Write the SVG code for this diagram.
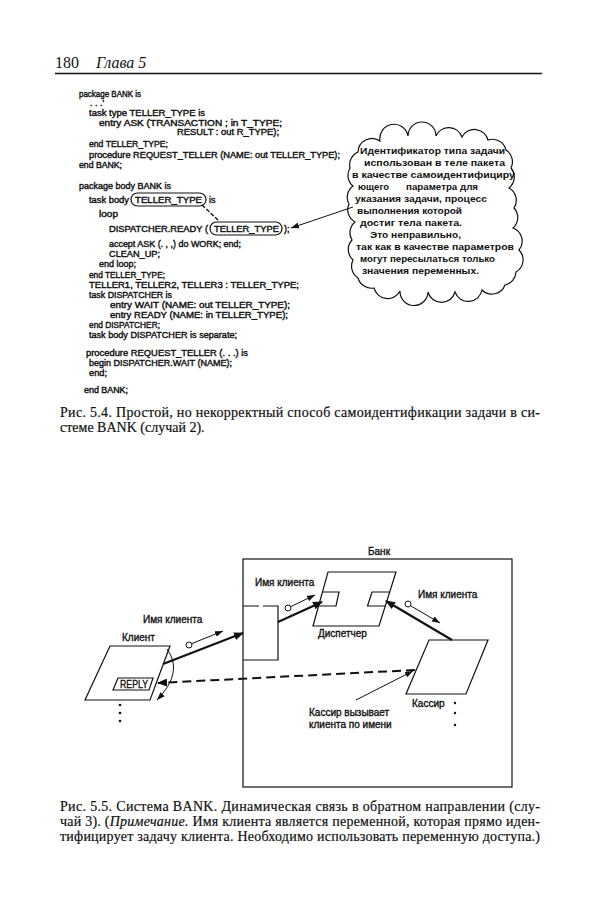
<svg xmlns="http://www.w3.org/2000/svg" width="600" height="899" viewBox="0 0 600 899">
<style>
.code{font-family:"Liberation Sans",Arial,sans-serif;font-size:9px;fill:#111;stroke:#111;stroke-width:0.4}
.cl{font-family:"Liberation Sans",Arial,sans-serif;font-size:9.5px;font-weight:bold;fill:#111}
.lab{font-family:"Liberation Sans",Arial,sans-serif;font-size:10px;fill:#111;stroke:#111;stroke-width:0.35}
.cap{font-family:"Liberation Serif","Times New Roman",serif;font-size:14px;fill:#111;stroke:#111;stroke-width:0.2}
.hd{font-family:"Liberation Serif","Times New Roman",serif;font-size:16px;fill:#111}
.shape{fill:none;stroke:#111;stroke-width:1.2}
.thick{fill:none;stroke:#111;stroke-width:2.2}
.thin{fill:none;stroke:#111;stroke-width:1}
.dash{fill:none;stroke:#111;stroke-width:2;stroke-dasharray:9 5}
.dot{fill:#111}
.ring{fill:#fff;stroke:#111;stroke-width:1}
</style>
<defs>
<marker id="ah" markerUnits="userSpaceOnUse" markerWidth="10" markerHeight="8" refX="9" refY="4" orient="auto"><path d="M0,0 L10,4 L0,8 Z" fill="#111"/></marker>
<marker id="as" markerUnits="userSpaceOnUse" markerWidth="8" markerHeight="6" refX="8" refY="3" orient="auto"><path d="M0,0 L8,3 L0,6 Z" fill="#111"/></marker>
</defs>
<rect width="600" height="899" fill="#fff"/>

<g id="header">
<text class="hd" x="55" y="68">180</text>
<text class="hd" x="96" y="68" font-style="italic">Глава 5</text>
<line x1="55" y1="73.5" x2="542" y2="73.5" stroke="#111" stroke-width="1.5"/>
</g>

<g id="code">
<text class="code" x="79" y="97" textLength="62" lengthAdjust="spacingAndGlyphs">package BANK is</text>
<text class="code" x="90" y="106">. . .'</text>
<text class="code" x="89" y="116" textLength="116" lengthAdjust="spacingAndGlyphs">task type TELLER_TYPE is</text>
<text class="code" x="99" y="125.5" textLength="183" lengthAdjust="spacingAndGlyphs">entry ASK (TRANSACTION ; in T_TYPE;</text>
<text class="code" x="177" y="135" textLength="102" lengthAdjust="spacingAndGlyphs">RESULT : out R_TYPE);</text>
<text class="code" x="89" y="146.5" textLength="79" lengthAdjust="spacingAndGlyphs">end TELLER_TYPE;</text>
<text class="code" x="89" y="157.5" textLength="251" lengthAdjust="spacingAndGlyphs">procedure REQUEST_TELLER (NAME: out TELLER_TYPE);</text>
<text class="code" x="79" y="167.5" textLength="43" lengthAdjust="spacingAndGlyphs">end BANK;</text>
<text class="code" x="79" y="188.5" textLength="92" lengthAdjust="spacingAndGlyphs">package body BANK is</text>
<text class="code" x="89" y="203" textLength="40" lengthAdjust="spacingAndGlyphs">task body</text>
<text class="code" x="135" y="203" textLength="67" lengthAdjust="spacingAndGlyphs">TELLER_TYPE</text>
<text class="code" x="209" y="203">is</text>
<text class="code" x="99" y="216.5" textLength="19" lengthAdjust="spacingAndGlyphs">loop</text>
<text class="code" x="109" y="232" textLength="99" lengthAdjust="spacingAndGlyphs">DISPATCHER.READY (</text>
<text class="code" x="214" y="232" textLength="65" lengthAdjust="spacingAndGlyphs">TELLER_TYPE</text>
<text class="code" x="284" y="232">);</text>
<text class="code" x="109" y="247" textLength="132" lengthAdjust="spacingAndGlyphs">accept ASK (. , ,) do WORK; end;</text>
<text class="code" x="109" y="257" textLength="51" lengthAdjust="spacingAndGlyphs">CLEAN_UP;</text>
<text class="code" x="99" y="267" textLength="37" lengthAdjust="spacingAndGlyphs">end loop;</text>
<text class="code" x="89" y="277.5" textLength="76" lengthAdjust="spacingAndGlyphs">end TELLER_TYPE;</text>
<text class="code" x="89" y="288" textLength="210" lengthAdjust="spacingAndGlyphs">TELLER1, TELLER2, TELLER3 : TELLER_TYPE;</text>
<text class="code" x="89" y="298" textLength="83" lengthAdjust="spacingAndGlyphs">task DISPATCHER is</text>
<text class="code" x="110" y="308" textLength="180" lengthAdjust="spacingAndGlyphs">entry WAIT (NAME: out TELLER_TYPE);</text>
<text class="code" x="110" y="318" textLength="178" lengthAdjust="spacingAndGlyphs">entry READY (NAME: in TELLER_TYPE);</text>
<text class="code" x="89" y="328" textLength="71" lengthAdjust="spacingAndGlyphs">end DISPATCHER;</text>
<text class="code" x="89" y="338" textLength="148" lengthAdjust="spacingAndGlyphs">task body DISPATCHER is separate;</text>
<text class="code" x="86" y="355.5" textLength="162" lengthAdjust="spacingAndGlyphs">procedure REQUEST_TELLER (. . .) is</text>
<text class="code" x="89" y="365.5" textLength="143" lengthAdjust="spacingAndGlyphs">begin DISPATCHER.WAIT (NAME);</text>
<text class="code" x="89" y="375.5" textLength="18" lengthAdjust="spacingAndGlyphs">end;</text>
<text class="code" x="84" y="393" textLength="44" lengthAdjust="spacingAndGlyphs">end BANK;</text>
<rect class="shape" x="131" y="193" width="75" height="13" rx="6.5"/>
<rect class="shape" x="210" y="222" width="72" height="13" rx="6.5"/>
<path d="M202,205 L219,221" fill="none" stroke="#111" stroke-width="1.4" stroke-dasharray="4 2"/>
</g>

<g id="cloud">
<path class="shape" d="M358,152 A14,14 0 0 1 380,141 A14,14 0 0 1 408,136 A14,14 0 0 1 436,136 A14,14 0 0 1 462,137 A14,14 0 0 1 488,140 A14,14 0 0 1 506,150 A14,14 0 0 1 511,168 A14,14 0 0 1 509,188 A14,14 0 0 1 514,208 A14,14 0 0 1 513,228 A14,14 0 0 1 519,250 A14,14 0 0 1 516,272 A14,14 0 0 1 505,285 A14,14 0 0 1 482,290 A14,14 0 0 1 455,292 A14,14 0 0 1 428,292 A14,14 0 0 1 400,291 A14,14 0 0 1 374,288 A14,14 0 0 1 358,278 A14,14 0 0 1 353,260 A14,14 0 0 1 352,240 A14,14 0 0 1 355,222 A14,14 0 0 1 349,204 A14,14 0 0 1 353,186 A14,14 0 0 1 350,168 A14,14 0 0 1 358,152 Z"/>
<text class="cl" x="360" y="153.5" textLength="145" lengthAdjust="spacingAndGlyphs">Идентификатор типа задачи</text>
<text class="cl" x="364" y="165.5" textLength="141" lengthAdjust="spacingAndGlyphs">использован в теле пакета</text>
<text class="cl" x="352" y="177.5" textLength="163" lengthAdjust="spacingAndGlyphs">в качестве самоидентифициру</text>
<text class="cl" x="358" y="189.5" textLength="31" lengthAdjust="spacingAndGlyphs">ющего</text>
<text class="cl" x="406" y="189.5" textLength="72" lengthAdjust="spacingAndGlyphs">параметра для</text>
<text class="cl" x="355" y="201.5" textLength="132" lengthAdjust="spacingAndGlyphs">указания задачи, процесс</text>
<text class="cl" x="357" y="213.5" textLength="105" lengthAdjust="spacingAndGlyphs">выполнения которой</text>
<text class="cl" x="360" y="225.5" textLength="102" lengthAdjust="spacingAndGlyphs">достиг тела пакета.</text>
<text class="cl" x="370" y="237.5" textLength="91" lengthAdjust="spacingAndGlyphs">Это неправильно,</text>
<text class="cl" x="356" y="249.5" textLength="158" lengthAdjust="spacingAndGlyphs">так как в качестве параметров</text>
<text class="cl" x="360" y="261.5" textLength="135" lengthAdjust="spacingAndGlyphs">могут пересылаться только</text>
<text class="cl" x="362" y="273.5" textLength="117" lengthAdjust="spacingAndGlyphs">значения переменных.</text>
</g>

<g id="caption54">
<text class="cap" x="60" y="417" textLength="480" lengthAdjust="spacing">Рис. 5.4. Простой, но некорректный способ самоидентификации задачи в си-</text>
<text class="cap" x="60" y="432">стеме BANK (случай 2).</text>
</g>

<g id="bank">
<rect class="shape" x="243" y="559" width="269" height="228"/>
<text class="lab" x="379" y="555" text-anchor="middle">Банк</text>
</g>

<g id="gate">
<path class="shape" d="M243,606 L259,606 M263,606 L278,606 L278,660 L243,660"/>
</g>

<g id="dispatcher">
<path class="shape" d="M328,572 L396,572 L379,626 L313,626 Z"/>
<path class="shape" d="M322.4,592 L339,592 L336,606 L318.6,606"/>
<path class="shape" d="M389.7,592 L372,592 L367.5,606 L385.3,606"/>
<text class="lab" x="318" y="637">Диспетчер</text>
</g>

<g id="client">
<path class="shape" d="M110,646 L170,646 L150,700 L85,700 Z"/>
<path class="shape" d="M118,678 L153,678 L149,690 L113,690 Z"/>
<text class="lab" x="120" y="687.5" font-size="8.5" textLength="28" lengthAdjust="spacingAndGlyphs">REPLY</text>
<text class="lab" x="122" y="641">Клиент</text>
<circle class="dot" cx="120" cy="705" r="1.3"/>
<circle class="dot" cx="120" cy="713" r="1.3"/>
<circle class="dot" cx="120" cy="721" r="1.3"/>
</g>

<g id="kassir">
<path class="shape" d="M429,640 L488,640 L466,694 L406,694 Z"/>
<text class="lab" x="412" y="707">Кассир</text>
<circle class="dot" cx="455" cy="703" r="1.2"/>
<circle class="dot" cx="455" cy="713" r="1.2"/>
<circle class="dot" cx="455" cy="725" r="1.2"/>
</g>

<g id="labels">
<text class="lab" x="143" y="623">Имя клиента</text>
<text class="lab" x="255" y="586">Имя клиента</text>
<text class="lab" x="418" y="598">Имя клиента</text>
<text class="lab" x="309" y="716">Кассир вызывает</text>
<text class="lab" x="309" y="727.5">клиента по имени</text>
</g>

<g id="connectors">
<path class="thin" d="M353,207 L291,228" marker-end="url(#as)" stroke-width="1.2"/>
<path class="thick" d="M163,664 L243,633" marker-end="url(#ah)"/>
<path class="thick" d="M278,622 L322,602" marker-end="url(#ah)"/>
<path class="thick" d="M452,640 L386,601" marker-end="url(#ah)"/>
<path class="thin" d="M167,649 Q184,672 157,700" marker-end="url(#as)" stroke-width="1.2"/>
<path class="dash" d="M415,670 L158,683" marker-end="url(#ah)"/>
<path class="thin" d="M356,700 L413,671" marker-end="url(#as)"/>
<circle class="ring" cx="189" cy="645" r="3"/>
<path class="thin" d="M192,643.5 L223,631" marker-end="url(#as)"/>
<circle class="ring" cx="288" cy="608" r="3"/>
<path class="thin" d="M291,606.5 L315,595" marker-end="url(#as)"/>
<circle class="ring" cx="408" cy="604" r="3"/>
<path class="thin" d="M411,606 L440,623" marker-end="url(#as)"/>
</g>

<g id="caption55">
<text class="cap" x="60" y="811" textLength="480" lengthAdjust="spacing">Рис. 5.5. Система BANK. Динамическая связь в обратном направлении (слу-</text>
<text class="cap" x="60" y="826" textLength="480" lengthAdjust="spacing">чай 3). (<tspan font-style="italic">Примечание.</tspan> Имя клиента является переменной, которая прямо иден-</text>
<text class="cap" x="60" y="841" textLength="480" lengthAdjust="spacing">тифицирует задачу клиента. Необходимо использовать переменную доступа.)</text>
</g>
</svg>
